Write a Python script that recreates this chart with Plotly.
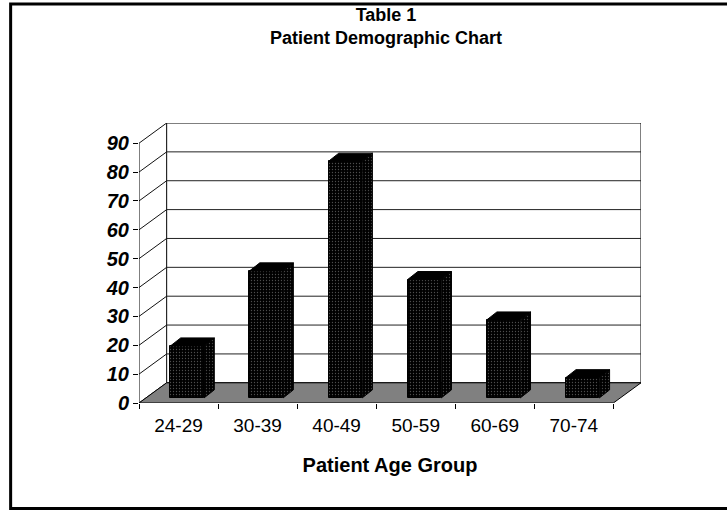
import plotly.graph_objects as go

# ---- data ----
categories = ["24-29", "30-39", "40-49", "50-59", "60-69", "70-74"]
patients = [18, 44, 82, 41, 27, 7]
y_ticks = [0, 10, 20, 30, 40, 50, 60, 70, 80, 90]

# ---- pseudo-3D geometry (in axis units) ----
DX, DY = 0.35, 7.0          # depth of the floor / side wall
BAR_OFF, BAR_W = 0.11, 0.425  # front face centre offset and width
BASE = 1.75                  # front face sits a bit behind the front edge
BDX, BDY = 0.13, 2.8         # depth of each bar
YMAX = 90
n = len(categories)
xs = list(range(n))

FONT = "Arial, Liberation Sans, sans-serif"

fig = go.Figure()

# front faces of the bars (real bar trace)
fig.add_trace(go.Bar(
    x=[i + BAR_OFF for i in xs], y=patients, base=BASE, width=BAR_W,
    marker=dict(color="black", line=dict(color="black", width=1),
                pattern=dict(shape=".", fgcolor="#9a9a9a", size=3, solidity=0.15)),
    showlegend=False, hoverinfo="skip"))

# side and top faces computed from the same values
for i, v in zip(xs, patients):
    xl = i + BAR_OFF - BAR_W / 2
    xr = i + BAR_OFF + BAR_W / 2
    fig.add_trace(go.Scatter(
        x=[xr, xr + BDX, xr + BDX, xr, xr],
        y=[BASE, BASE + BDY, BASE + BDY + v, BASE + v, BASE],
        fill="toself", fillcolor="black", mode="lines",
        fillpattern=dict(shape=".", fgcolor="#8a8a8a", bgcolor="black", size=3, solidity=0.15),
        line=dict(color="black", width=1), showlegend=False, hoverinfo="skip"))
    fig.add_trace(go.Scatter(
        x=[xl, xr, xr + BDX, xl + BDX, xl],
        y=[BASE + v, BASE + v, BASE + BDY + v, BASE + BDY + v, BASE + v],
        fill="toself", fillcolor="black", mode="lines",
        line=dict(color="black", width=1), showlegend=False, hoverinfo="skip"))

shapes = []
x0, x1 = -0.5, n - 0.5
# back wall
shapes.append(dict(type="rect", xref="x", yref="y", x0=x0 + DX, x1=x1 + DX, y0=DY, y1=YMAX + DY,
                   fillcolor="white", line=dict(color="black", width=1), layer="below"))
# back-wall gridlines and left-wall diagonals
for t in y_ticks:
    if 0 < t < YMAX:
        shapes.append(dict(type="line", xref="x", yref="y", x0=x0 + DX, x1=x1 + DX,
                           y0=t + DY, y1=t + DY, line=dict(color="#222", width=1), layer="below"))
    shapes.append(dict(type="line", xref="x", yref="y", x0=x0, x1=x0 + DX,
                       y0=t, y1=t + DY, line=dict(color="#111", width=1), layer="below"))
# floor
shapes.append(dict(type="path", xref="x", yref="y",
                   path=f"M {x0},0 L {x1},0 L {x1 + DX},{DY} L {x0 + DX},{DY} Z",
                   fillcolor="#808080", line=dict(color="black", width=1), layer="below"))
# front value axis
shapes.append(dict(type="line", xref="x", yref="y", x0=x0, x1=x0, y0=0, y1=YMAX,
                   line=dict(color="black", width=1), layer="below"))
# outer border of the chart (right edge lies outside the window)
shapes.append(dict(type="rect", xref="paper", yref="paper", x0=-0.2557, x1=1.3, y0=-0.3767, y1=1.4248,
                   fillcolor="rgba(0,0,0,0)", line=dict(color="black", width=3), layer="below"))

fig.update_layout(
    width=727, height=512,
    margin=dict(l=139, r=86, t=123, b=109),
    paper_bgcolor="white", plot_bgcolor="white",
    shapes=shapes,
    xaxis=dict(range=[x0, x1 + DX], tickmode="array", tickvals=xs, ticktext=categories,
               ticks="", showgrid=False, zeroline=False, showline=False,
               ticklabelstandoff=9,
               tickfont=dict(family=FONT, size=19, color="black"),
               minor=dict(tickmode="array", tickvals=[k - 0.5 for k in range(n + 1)],
                          ticks="outside", ticklen=5, tickcolor="black", showgrid=False),
               title=dict(text="<b>Patient Age Group</b>", font=dict(family=FONT, size=20, color="black"),
                          standoff=22)),
    yaxis=dict(range=[0, YMAX + DY], tickmode="array", tickvals=y_ticks,
               ticktext=[f"<b><i>{t}</i></b>" for t in y_ticks],
               ticks="outside", ticklen=5, tickcolor="black",
               showgrid=False, zeroline=False, showline=False,
               tickfont=dict(family=FONT, size=20, color="black")),
    annotations=[dict(text="<b>Table 1</b><br><b>Patient Demographic Chart</b>",
                      xref="paper", yref="paper", x=0.493, y=1.43, xanchor="center", yanchor="top",
                      showarrow=False, font=dict(family=FONT, size=18, color="black"))],
    bargap=0,
)

fig.write_html("out.html", config={"displayModeBar": False},
               post_script="document.body.style.margin='0';")
